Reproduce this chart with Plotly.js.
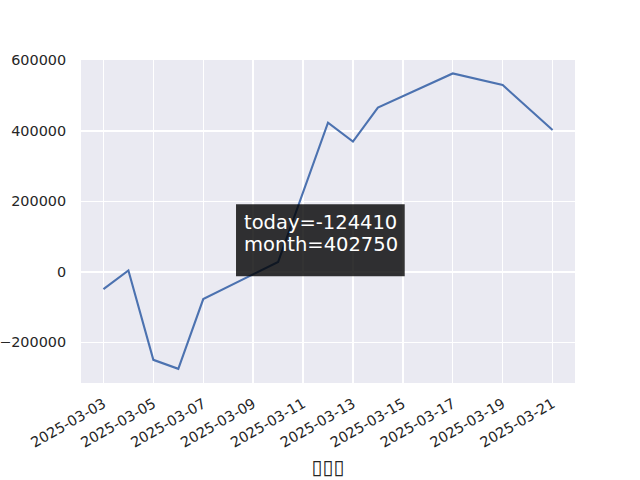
<!DOCTYPE html>
<html>
<head>
<meta charset="utf-8">
<script src="https://cdn.plot.ly/plotly-3.0.1.min.js"></script>
<style>html,body{margin:0;padding:0;background:#fff;}#chart{width:640px;height:480px;}</style>
</head>
<body>
<div id="chart"></div>
<script>
// Data
var dates = ['2025-03-03','2025-03-04','2025-03-05','2025-03-06','2025-03-07','2025-03-10',
             '2025-03-12','2025-03-13','2025-03-14','2025-03-17','2025-03-19','2025-03-21'];
var values = [-48800, 4000, -249300, -274700, -77100, 28200,
              423400, 369800, 465800, 562900, 529900, 402750];
var xTickVals = ['2025-03-03','2025-03-05','2025-03-07','2025-03-09','2025-03-11',
                 '2025-03-13','2025-03-15','2025-03-17','2025-03-19','2025-03-21'];
var yTickVals = [-200000, 0, 200000, 400000, 600000];
var infoLines = ['today=-124410', 'month=402750'];
var xTitle = '\u25AF\u25AF\u25AF';

var font = 'DejaVu Sans';
var textColor = '#262626';

var trace = {
  x: dates, y: values, type: 'scatter', mode: 'lines',
  line: {color: '#4C72B0', width: 2.1},
  hoverinfo: 'skip'
};

var layout = {
  width: 640, height: 480,
  margin: {l: 81, r: 65, t: 60, b: 97, pad: 0},
  paper_bgcolor: '#ffffff',
  plot_bgcolor: '#EAEAF2',
  showlegend: false,
  font: {family: font, size: 14.4, color: textColor},
  xaxis: {
    type: 'date',
    range: ['2025-03-02 02:24', '2025-03-21 21:36'],
    tickvals: xTickVals,
    ticktext: xTickVals,
    tickangle: -30,
    showgrid: true, gridcolor: '#ffffff', gridwidth: 1.4,
    zeroline: false, showline: false,
    ticks: 'outside', ticklen: 6, tickcolor: 'rgba(0,0,0,0)',
    tickfont: {family: font, size: 14.4, color: textColor},
    title: {text: xTitle, font: {family: font, size: 20, color: textColor}, standoff: 10}
  },
  yaxis: {
    range: [-315000, 601000],
    tickvals: yTickVals,
    tickformat: 'd',
    showgrid: true, gridcolor: '#ffffff', gridwidth: 1.4,
    zeroline: false, showline: false,
    ticks: 'outside', ticklen: 11, tickcolor: 'rgba(0,0,0,0)',
    tickfont: {family: font, size: 14.4, color: textColor}
  },
  shapes: [{
    type: 'rect', xref: 'paper', yref: 'paper', layer: 'above',
    x0: 0.3138, x1: 0.6553, y0: 0.3303, y1: 0.5533,
    fillcolor: 'rgba(0,0,0,0.8)', line: {width: 0}
  }],
  annotations: [
    {xref: 'paper', yref: 'paper', x: 0.3273, y: 0.535, xanchor: 'left', yanchor: 'top',
     text: infoLines[0], showarrow: false, borderpad: 0,
     font: {family: font, size: 19.5, color: '#ffffff'}},
    {xref: 'paper', yref: 'paper', x: 0.3273, y: 0.468, xanchor: 'left', yanchor: 'top',
     text: infoLines[1], showarrow: false, borderpad: 0,
     font: {family: font, size: 19.5, color: '#ffffff'}}
  ]
};

Plotly.newPlot('chart', [trace], layout, {displayModeBar: false, staticPlot: true});
</script>
</body>
</html>
